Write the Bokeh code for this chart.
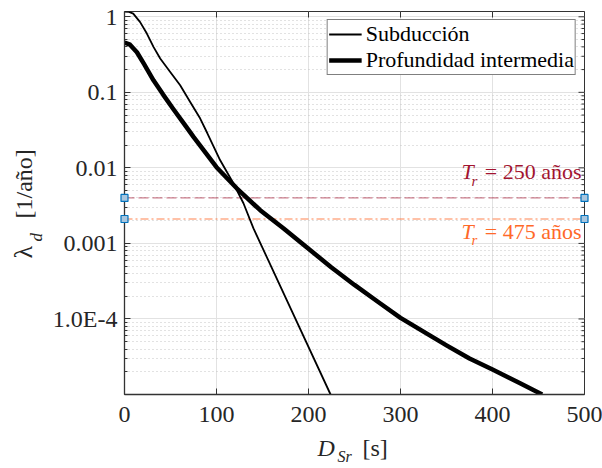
import math

from bokeh.plotting import figure
from bokeh.models import Range1d, FixedTicker, Legend, LegendItem, Label
from bokeh.core.properties import value
from bokeh.embed import file_html
from bokeh.resources import INLINE

# Curvas de tasa anual de excedencia de la duración significativa D_Sr
sub_dsr = [0, 5, 9.5, 17, 24.3, 31.5, 38.8, 49.7, 60.5, 71.4, 82.3, 90.2,
           104, 118.5, 129.3, 140.2, 224]
sub_rate = [1.17, 1.16, 1.10, 0.85, 0.60, 0.40, 0.28, 0.186, 0.124, 0.0745,
            0.045, 0.0285, 0.0126, 0.0062, 0.0034, 0.00158, 1.0e-5]

int_dsr = [0, 6, 13.5, 21, 31.5, 42, 53, 65, 75, 100, 122, 147.5, 173, 200,
           225, 250, 275, 300, 325, 350, 375, 400, 430, 454]
int_rate = [0.457, 0.427, 0.339, 0.240, 0.1445, 0.0933, 0.0603, 0.038,
            0.0257, 0.0102, 0.00537, 0.00275, 0.00158, 8.5e-4, 4.8e-4,
            2.82e-4, 1.7e-4, 1.035e-4, 6.8e-5, 4.47e-5, 3.0e-5, 2.14e-5,
            1.41e-5, 1.0e-5]

series_names = ["Subducción", "Profundidad intermedia"]

# Periodos de retorno de referencia
return_periods = [250, 475]
return_colors = ["#A2142F", "#FF6929"]

x_ticks = [0, 100, 200, 300, 400, 500]
y_ticks = [1e-4, 1e-3, 1e-2, 0.1, 1]
y_tick_labels = ["1.0E-4", "0.001", "0.01", "0.1", "1"]

X_MIN, X_MAX = 0, 500
Y_MIN, Y_MAX = 1e-5, 1.175

SERIF = "Liberation Serif"
AXIS_COLOR = "#333333"
TEXT_COLOR = "#262626"

y_minor = [k * 10.0 ** e for e in range(-5, 1) for k in range(2, 10)
           if k * 10.0 ** e <= Y_MAX]

p = figure(width=602, height=468, x_range=Range1d(X_MIN, X_MAX),
           y_range=Range1d(Y_MIN, Y_MAX), y_axis_type="log",
           output_backend="svg", toolbar_location=None,
           min_border_left=124, min_border_right=18,
           min_border_top=11, min_border_bottom=74)
p.background_fill_color = "white"
p.border_fill_color = "white"
p.outline_line_color = AXIS_COLOR
p.outline_line_width = 1

x_ticker = FixedTicker(ticks=x_ticks, minor_ticks=[])
y_ticker = FixedTicker(ticks=y_ticks, minor_ticks=y_minor)

for ax in (p.xaxis[0], p.yaxis[0]):
    ax.axis_line_color = AXIS_COLOR
    ax.axis_line_width = 1.3
    ax.major_tick_line_color = AXIS_COLOR
    ax.minor_tick_line_color = AXIS_COLOR
    ax.major_tick_in = 6
    ax.major_tick_out = 0
    ax.minor_tick_in = 3
    ax.minor_tick_out = 0
    ax.major_label_text_font = SERIF
    ax.major_label_text_font_size = "24px"
    ax.major_label_text_color = TEXT_COLOR

p.xaxis.ticker = x_ticker
p.yaxis.ticker = y_ticker
p.yaxis.major_label_overrides = {t: lab for t, lab in zip(y_ticks, y_tick_labels)}
p.xaxis.major_label_standoff = 12
p.yaxis.major_label_standoff = 7

# Marcas de graduación en los bordes superior y derecho (la mitad exterior
# queda recortada por el marco)
p.scatter(x_ticks, [Y_MAX] * len(x_ticks), marker="dash", angle=math.pi / 2,
          size=12, line_color=AXIS_COLOR, line_width=1)
p.scatter([X_MAX] * len(y_ticks), y_ticks, marker="dash", size=12,
          line_color=AXIS_COLOR, line_width=1)
p.scatter([X_MAX] * len(y_minor), y_minor, marker="dash", size=6,
          line_color=AXIS_COLOR, line_width=1)

# Rejilla
p.xgrid.ticker = x_ticker
p.ygrid.ticker = y_ticker
p.xgrid.grid_line_color = "#E2E2E2"
p.ygrid.grid_line_color = "#E2E2E2"
p.ygrid.minor_grid_line_color = "#C4C4C4"
p.ygrid.minor_grid_line_dash = "1 3"

# Líneas de periodo de retorno
dashes = ["10 4", "8 3 2 3"]
for tr, col, dash in zip(return_periods, return_colors, dashes):
    rate = 1.0 / tr
    p.line([X_MIN, X_MAX], [rate, rate], line_color=col, line_alpha=0.55,
           line_width=1.3, line_dash=dash)
    p.scatter([X_MIN, X_MAX], [rate, rate], marker="square", size=7,
              line_color="#0072BD", line_width=1.2, fill_color="#A9C6DE",
              level="overlay")

# Curvas
r_sub = p.line(sub_dsr, sub_rate, line_color="black", line_width=1.8)
r_int = p.line(int_dsr, int_rate, line_color="black", line_width=4.5,
               line_join="round")

legend = Legend(items=[LegendItem(label=series_names[0], renderers=[r_sub]),
                       LegendItem(label=series_names[1], renderers=[r_int])],
                location="top_right", margin=8, padding=1, spacing=0,
                glyph_width=33, glyph_height=20, label_height=20,
                label_standoff=4, label_text_font=SERIF,
                label_text_font_size="22px", label_text_color="black",
                border_line_color="black", border_line_width=1,
                background_fill_color="white", background_fill_alpha=1)
p.add_layout(legend)


def add_label(text, x, y, dx, dy, size, style="normal", color=TEXT_COLOR,
              align="left"):
    p.add_layout(Label(x=x, y=y, x_offset=dx, y_offset=dy, text=text,
                       text_font=SERIF, text_font_size=f"{size}px",
                       text_font_style=style, text_color=color,
                       text_align=align, text_baseline="alphabetic"))


def add_title_piece(text, x, y, dx, dy, size, style="normal", angle=0.0):
    # texto de título fuera del marco (nivel overlay: no se recorta)
    p.text(x=[x], y=[y], text=[text], x_offset=dx, y_offset=dy, angle=angle,
           text_font=value(SERIF), text_font_size=f"{size}px",
           text_font_style=style, text_color=TEXT_COLOR,
           text_align="left", text_baseline="alphabetic", level="overlay")


# Etiquetas de periodo de retorno (T_r = ... años)
tr_dy = [26, -12.5]
for tr, col, dy in zip(return_periods, return_colors, tr_dy):
    rate = 1.0 / tr
    add_label("T", X_MAX, rate, -123, dy, 22, "italic", col)
    add_label("r", X_MAX, rate, -113, dy - 9, 15, "italic", col)
    add_label(f"= {tr} años", X_MAX, rate, -3, dy, 22, "normal", col,
              align="right")

# Título del eje x: D_Sr [s]
x_mid = (X_MIN + X_MAX) / 2
add_title_piece("D", x_mid, Y_MIN, -37, 53, 24, "italic")
add_title_piece("Sr", x_mid, Y_MIN, -17, 62, 16, "italic")
add_title_piece("[s]", x_mid, Y_MIN, 8, 53, 24)

# Título del eje y: λ_d [1/año]
rot = math.pi / 2
add_title_piece("λ", X_MIN, Y_MIN, -101, -136, 26, angle=rot)
add_title_piece("d", X_MIN, Y_MIN, -88, -153, 17, "italic", angle=rot)
add_title_piece("[1/año]", X_MIN, Y_MIN, -101, -176, 24, angle=rot)

open("out.html", "w").write(file_html(p, INLINE))
